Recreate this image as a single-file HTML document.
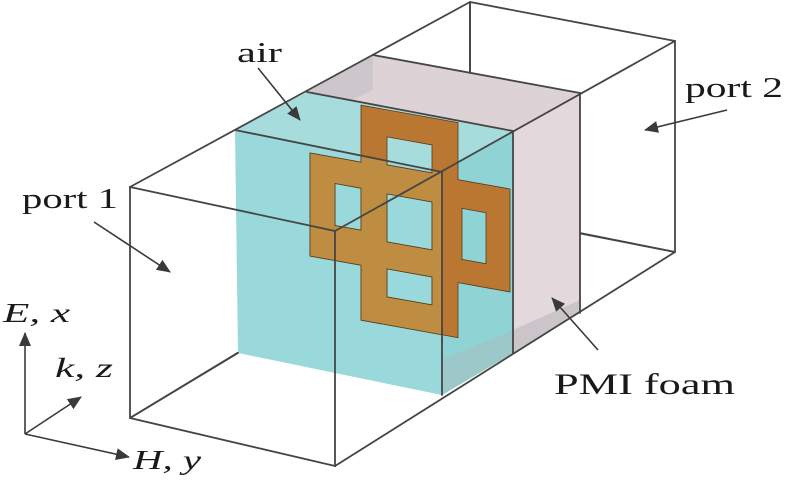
<!DOCTYPE html>
<html><head><meta charset="utf-8"><style>html,body{margin:0;padding:0;background:#fff}svg{display:block}</style></head>
<body>
<svg width="786" height="482" viewBox="0 0 786 482" xmlns="http://www.w3.org/2000/svg">
<defs>
<clipPath id="p1"><polygon points="235,130 442,172 442,395 238,353"/></clipPath>
<marker id="ah" viewBox="0 0 14 12" refX="13" refY="6" markerWidth="14" markerHeight="12" markerUnits="userSpaceOnUse" orient="auto"><path d="M0,0 L14,6 L0,12 Z" fill="#3a3a3a"/></marker>
</defs>
<g stroke="#4a4a4a" stroke-width="1.8" fill="none">
<line x1="130" y1="418" x2="470" y2="212"/>
<line x1="470" y1="2" x2="470" y2="212"/>
<line x1="470" y1="212" x2="675" y2="252"/>
</g>
<!-- fills -->
<polygon points="307,92 373,55 580,93 513,131" fill="#ddd3d7"/>
<polygon points="307,92 373,55 373,90 330,110" fill="#cdc6ca"/>
<polygon points="513,131 580,93 580,313 513,353" fill="#e3d9dd"/>
<polygon points="513,330 580,300 580,313 513,353" fill="#cbc4c8"/>
<polygon points="235,130 307,92 513,131 442,172" fill="#a6dcdc"/>
<polygon points="442,172 513,131 513,353 442,395" fill="#8fd3d4"/>
<polygon points="442,360 513,330 513,353 442,395" fill="#9cc8c9"/>
<polygon points="235,130 442,172 442,395 238,353" fill="#99d9dc"/>
<!-- copper -->
<g transform="matrix(1,0.18,0,1,0,-55.8)">
<path fill-rule="evenodd" fill="#b97731" stroke="#5a3a18" stroke-width="0.8" d="M361,96 H458 V153 H510 V256 H458 V311 H361 V256 H310 V153 H361 Z M387,123 H432 V151 H387 Z M335,179 H361 V221 H335 Z M387,180 H432 V228 H387 Z M462,181 H486 V232 H462 Z M387,255 H432 V283 H387 Z"/>
</g>
<g clip-path="url(#p1)"><g transform="matrix(1,0.18,0,1,0,-55.8)">
<path fill-rule="evenodd" fill="#be8d42" stroke="#5a3a18" stroke-width="0.8" d="M361,96 H458 V153 H510 V256 H458 V311 H361 V256 H310 V153 H361 Z M387,123 H432 V151 H387 Z M335,179 H361 V221 H335 Z M387,180 H432 V228 H387 Z M462,181 H486 V232 H462 Z M387,255 H432 V283 H387 Z"/>
</g></g>
<!-- visible edges -->
<g stroke="#454545" stroke-width="1.8" fill="none" stroke-linecap="round">
<line x1="130" y1="418" x2="238" y2="353"/>
<line x1="235" y1="130" x2="442" y2="172"/>
<line x1="442" y1="172" x2="442" y2="395"/>
<line x1="307" y1="92" x2="513" y2="131"/>
<line x1="513" y1="131" x2="513" y2="353"/>
<line x1="373" y1="55" x2="580" y2="93"/>
<line x1="580" y1="93" x2="580" y2="313"/>
<line x1="470" y1="2" x2="470" y2="73"/>
<line x1="580" y1="233" x2="675" y2="252"/>
<line x1="130" y1="187" x2="470" y2="2"/>
<line x1="335" y1="231" x2="675" y2="41"/>
<line x1="335" y1="466" x2="675" y2="252"/>
<line x1="470" y1="2" x2="675" y2="41"/>
<line x1="675" y1="41" x2="675" y2="252"/>
<polygon points="130,187 335,231 335,466 130,418"/>
</g>
<!-- arrows -->
<g stroke="#3a3a3a" stroke-width="1.6" fill="none" marker-end="url(#ah)">
<line x1="94" y1="222" x2="170" y2="272"/>
<line x1="258" y1="68" x2="300" y2="120"/>
<line x1="727" y1="110" x2="645" y2="130"/>
<line x1="598" y1="350" x2="552" y2="298"/>
<line x1="25" y1="434" x2="25" y2="333"/>
<line x1="25" y1="434" x2="81" y2="397"/>
<line x1="25" y1="434" x2="129" y2="457"/>
</g>
<g font-family="'Liberation Serif', serif" fill="#1a1a1a">
<text x="22" y="208" font-size="28" textLength="96" lengthAdjust="spacingAndGlyphs">port 1</text>
<text x="685" y="97" font-size="28" textLength="98" lengthAdjust="spacingAndGlyphs">port 2</text>
<text x="237" y="62" font-size="28" textLength="45" lengthAdjust="spacingAndGlyphs">air</text>
<text x="554" y="394" font-size="30" textLength="181" lengthAdjust="spacingAndGlyphs">PMI foam</text>
<text x="3" y="322" font-size="27" font-style="italic" textLength="67" lengthAdjust="spacingAndGlyphs">E, x</text>
<text x="55" y="377" font-size="27" font-style="italic" textLength="58" lengthAdjust="spacingAndGlyphs">k, z</text>
<text x="133" y="469" font-size="27" font-style="italic" textLength="68" lengthAdjust="spacingAndGlyphs">H, y</text>
</g>
</svg>
</body></html>
